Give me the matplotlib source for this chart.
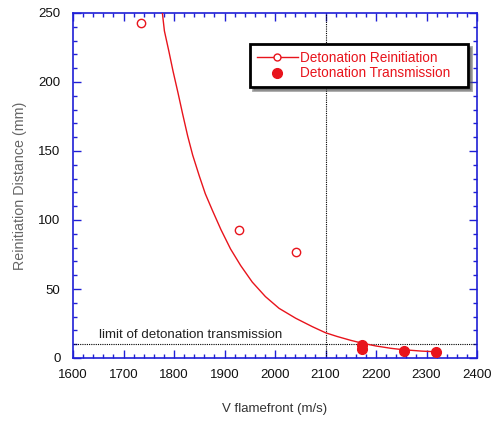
import matplotlib
matplotlib.use("Agg")
import matplotlib.pyplot as plt
from matplotlib.ticker import MultipleLocator
from matplotlib.lines import Line2D

plt.rcParams['font.family'] = ['Liberation Sans', 'DejaVu Sans']

# Data
reinit_x = [1735, 1929, 2042]
reinit_y = [243, 93, 77]
trans_x = [2173, 2173, 2256, 2319]
trans_y = [9.4, 6.3, 5.3, 4.1]
fit_x = [1775, 1777, 1781, 1790, 1798, 1808, 1817, 1827, 1837, 1850, 1862, 1876,
         1893, 1912, 1932, 1955, 1981, 2008, 2041, 2074, 2100, 2123, 2150,
         2172, 2200, 2230, 2254, 2290, 2325]
fit_y = [254, 250, 237, 222, 208, 192, 177, 161, 147, 132, 119, 107,
         93, 79, 67, 55, 44.5, 36, 28.8, 22.7, 18.3, 15.6, 12.8,
         10.8, 8.7, 7.0, 6.0, 5.0, 4.4]
limit_v = 2100
limit_d = 10

red = '#e8141c'
blue = '#1f1fd6'

fig = plt.figure(figsize=(4.91, 4.21), dpi=100)
L, R, T, B = 73, 477, 13, 358
ax = fig.add_axes([L/491, 1-B/421, (R-L)/491, (B-T)/421])

ax.plot(fit_x, fit_y, '-', color=red, lw=1.0, zorder=3)
ax.plot(reinit_x, reinit_y, 'o', mfc='white', mec=red, mew=1.0, ms=6, ls='none', zorder=4)
ax.plot(trans_x, trans_y, 'o', color=red, ms=7, ls='none', zorder=4)

ax.axvline(limit_v, color='black', lw=0.8, ls=(0, (1, 1)), zorder=2)
ax.axhline(limit_d, color='black', lw=0.8, ls=(0, (1, 1)), zorder=2)
ax.text(1652, 12.5, 'limit of detonation transmission', fontsize=9.6,
        color='#222222', va='bottom', ha='left')

ax.set_xlim(1600, 2400)
ax.set_ylim(0, 250)
ax.xaxis.set_major_locator(MultipleLocator(100))
ax.xaxis.set_minor_locator(MultipleLocator(20))
ax.yaxis.set_major_locator(MultipleLocator(50))
ax.yaxis.set_minor_locator(MultipleLocator(10))

for s in ax.spines.values():
    s.set_color(blue)
    s.set_linewidth(1.2)
ax.tick_params(which='both', direction='in', top=True, right=True, color=blue,
               labelsize=9.5, labelcolor='#111111')
ax.tick_params(which='major', length=6, width=1.0)
ax.tick_params(which='minor', length=3, width=1.0)
ax.tick_params(axis='x', which='major', pad=8)
ax.tick_params(axis='y', which='major', pad=9)

ax.set_xlabel('V flamefront (m/s)', fontsize=9.5, color='#333333', labelpad=16)
ax.set_ylabel('Reinitiation Distance (mm)', fontsize=10.3, color='#666666', labelpad=8)

# Legend with shadow
h1 = Line2D([], [], color=red, lw=1.0, marker='o', mfc='white', mec=red, ms=5)
h2 = Line2D([], [], color=red, ls='none', marker='o', ms=7)
x0 = (250 - L) / (R - L)
w = (468 - 250) / (R - L)
ytop = 1 - (44 - T) / (B - T)
leg = ax.legend([h1, h2], ['Detonation Reinitiation', 'Detonation Transmission'],
                loc='upper left', bbox_to_anchor=(x0, 0, w, ytop), mode='expand',
                fontsize=9.8, frameon=True, fancybox=False, shadow=True,
                handlelength=3.0, handletextpad=0.2, borderpad=0.5,
                labelspacing=0.12, borderaxespad=0)
for t in leg.get_texts():
    t.set_color(red)
leg.get_frame().set_edgecolor('black')
leg.get_frame().set_linewidth(2.0)

fig.savefig('out.png', dpi=100)
